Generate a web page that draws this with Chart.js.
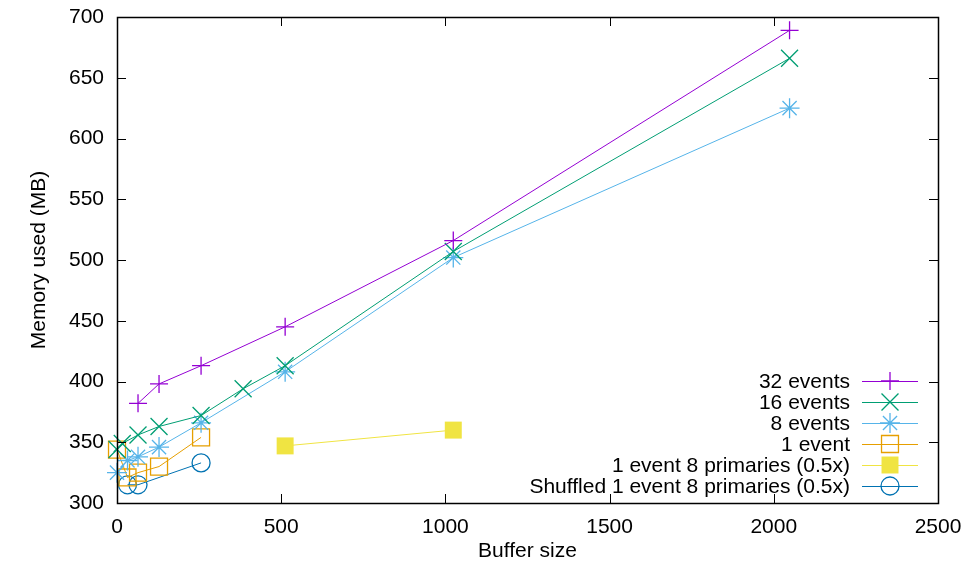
<!DOCTYPE html>
<html>
<head>
<meta charset="utf-8">
<script src="https://cdn.jsdelivr.net/npm/chart.js@4/dist/chart.umd.min.js"></script>
<style>
    html, body { margin: 0; padding: 0; background: #fff; }
    #wrap { width: 968px; height: 568px; }
</style>
</head>
<body>
<div id="wrap"><canvas id="memChart" width="968" height="568"></canvas></div>
<script>
// Buffer sizes and memory (MB) per series
const x32 = [64, 128, 256, 512, 1024, 2048];
const y32 = [382, 398, 413, 445, 516, 689];

const x16 = [0, 16, 64, 128, 256, 384, 512, 1024, 2048];
const y16 = [344, 349, 356, 363, 372, 394, 413, 507, 666];

const x8 = [0, 32, 64, 128, 256, 512, 1024, 2048];
const y8 = [325, 335, 338, 346, 366, 408, 502, 625];

const x1 = [0, 32, 64, 128, 256];
const y1 = [344, 321, 325, 330, 354];

const x1p = [512, 1024];
const y1p = [347, 360];

const xShuf = [32, 64, 256];
const yShuf = [315, 315, 333];

const xTicks = [0, 500, 1000, 1500, 2000, 2500];
const yTicks = [300, 350, 400, 450, 500, 550, 600, 650, 700];

const FONT = "'Liberation Sans', Arial, Helvetica, sans-serif";
const FSIZE = 21;

// gnuplot default colours
const COLORS = {
    purple: '#9400d3',
    green: '#009e73',
    sky: '#56b4e9',
    orange: '#e69f00',
    yellow: '#f0e442',
    blue: '#0072b2'
};

function toPoints(xs, ys) {
    return xs.map((x, i) => ({ x: x, y: ys[i] }));
}

function makeSeries(label, xs, ys, color, style, radius, filled) {
    return {
        label: label,
        data: toPoints(xs, ys),
        showLine: true,
        borderColor: color,
        backgroundColor: filled ? color : 'rgba(0,0,0,0)',
        borderWidth: 1,
        pointStyle: style,
        pointRadius: radius,
        pointHoverRadius: radius,
        pointBorderWidth: filled ? 0 : 1.3,
        pointBorderColor: color,
        pointBackgroundColor: filled ? color : 'rgba(0,0,0,0)',
        clip: false
    };
}

const datasets = [
    makeSeries('32 events', x32, y32, COLORS.purple, 'cross', 9, false),
    makeSeries('16 events', x16, y16, COLORS.green, 'crossRot', 12, false),
    makeSeries('8 events', x8, y8, COLORS.sky, 'star', 10, false),
    makeSeries('1 event', x1, y1, COLORS.orange, 'rect', 12, false),
    makeSeries('1 event 8 primaries (0.5x)', x1p, y1p, COLORS.yellow, 'rect', 12, true),
    makeSeries('Shuffled 1 event 8 primaries (0.5x)', xShuf, yShuf, COLORS.blue, 'circle', 9, false)
];

/**
 * Frame with inward ticks, gnuplot style
 */
const framePlugin = {
    id: 'frame',
    afterDatasetsDraw(chart) {
        const ctx = chart.ctx;
        const a = chart.chartArea;
        const xs = chart.scales.x;
        const ys = chart.scales.y;
        const len = 9;
        ctx.save();
        ctx.strokeStyle = '#000';
        ctx.lineWidth = 1;
        ctx.beginPath();
        xTicks.forEach(v => {
            const px = Math.round(xs.getPixelForValue(v)) + 0.5;
            ctx.moveTo(px, a.bottom);
            ctx.lineTo(px, a.bottom - len);
            ctx.moveTo(px, a.top);
            ctx.lineTo(px, a.top + len);
        });
        yTicks.forEach(v => {
            const py = Math.round(ys.getPixelForValue(v)) + 0.5;
            ctx.moveTo(a.left, py);
            ctx.lineTo(a.left + len, py);
            ctx.moveTo(a.right, py);
            ctx.lineTo(a.right - len, py);
        });
        ctx.stroke();
        ctx.lineWidth = 1.5;
        ctx.strokeRect(Math.round(a.left) + 0.5, Math.round(a.top) + 0.5,
            Math.round(a.right - a.left), Math.round(a.bottom - a.top));
        ctx.restore();
    }
};

/**
 * Legend inside the plot, text right aligned, sample on the right
 */
const keyPlugin = {
    id: 'key',
    afterDraw(chart) {
        const ctx = chart.ctx;
        const textRight = 850;
        const lineStart = 862;
        const lineEnd = 918;
        const markX = 890;
        const top = 381;
        const step = 21;
        ctx.save();
        ctx.font = FSIZE + 'px ' + FONT;
        ctx.textAlign = 'right';
        ctx.textBaseline = 'middle';
        chart.data.datasets.forEach((ds, i) => {
            const y = top + i * step;
            ctx.fillStyle = '#000';
            ctx.fillText(ds.label, textRight, y + 1);
            ctx.strokeStyle = ds.borderColor;
            ctx.lineWidth = 1;
            ctx.beginPath();
            ctx.moveTo(lineStart, y + 0.5);
            ctx.lineTo(lineEnd, y + 0.5);
            ctx.stroke();
            ctx.fillStyle = ds.pointBackgroundColor;
            ctx.strokeStyle = ds.pointBorderColor;
            ctx.lineWidth = ds.pointBorderWidth;
            Chart.helpers.drawPoint(ctx, {
                pointStyle: ds.pointStyle,
                radius: ds.pointRadius,
                rotation: 0,
                borderWidth: ds.pointBorderWidth
            }, markX, y);
        });
        ctx.restore();
    }
};

new Chart(document.getElementById('memChart'), {
    type: 'scatter',
    data: { datasets: datasets },
    options: {
        responsive: false,
        animation: false,
        layout: { padding: { left: 0, right: 30, top: 17, bottom: 0 } },
        plugins: {
            legend: { display: false },
            tooltip: { enabled: false }
        },
        scales: {
            x: {
                type: 'linear',
                min: 0,
                max: 2500,
                afterBuildTicks: scale => { scale.ticks = xTicks.map(v => ({ value: v })); },
                afterFit: scale => { scale.height = 65; scale.paddingLeft = 0; scale.paddingRight = 0; },
                grid: { display: false, drawTicks: false },
                border: { display: false },
                ticks: {
                    color: '#000',
                    font: { family: FONT, size: FSIZE },
                    padding: 12,
                    maxRotation: 0,
                    callback: v => String(v)
                },
                title: { display: true, text: 'Buffer size', color: '#000', font: { family: FONT, size: FSIZE }, padding: { top: 3 } }
            },
            y: {
                type: 'linear',
                min: 300,
                max: 700,
                afterBuildTicks: scale => { scale.ticks = yTicks.map(v => ({ value: v })); },
                afterFit: scale => { scale.width = 117; scale.paddingTop = 0; scale.paddingBottom = 0; },
                grid: { display: false, drawTicks: false },
                border: { display: false },
                ticks: {
                    color: '#000',
                    font: { family: FONT, size: FSIZE },
                    padding: 13,
                    callback: v => String(v)
                },
                title: { display: true, text: 'Memory used (MB)', color: '#000', font: { family: FONT, size: FSIZE }, padding: { top: 27, bottom: 0 } }
            }
        }
    },
    plugins: [framePlugin, keyPlugin]
});
</script>
</body>
</html>
